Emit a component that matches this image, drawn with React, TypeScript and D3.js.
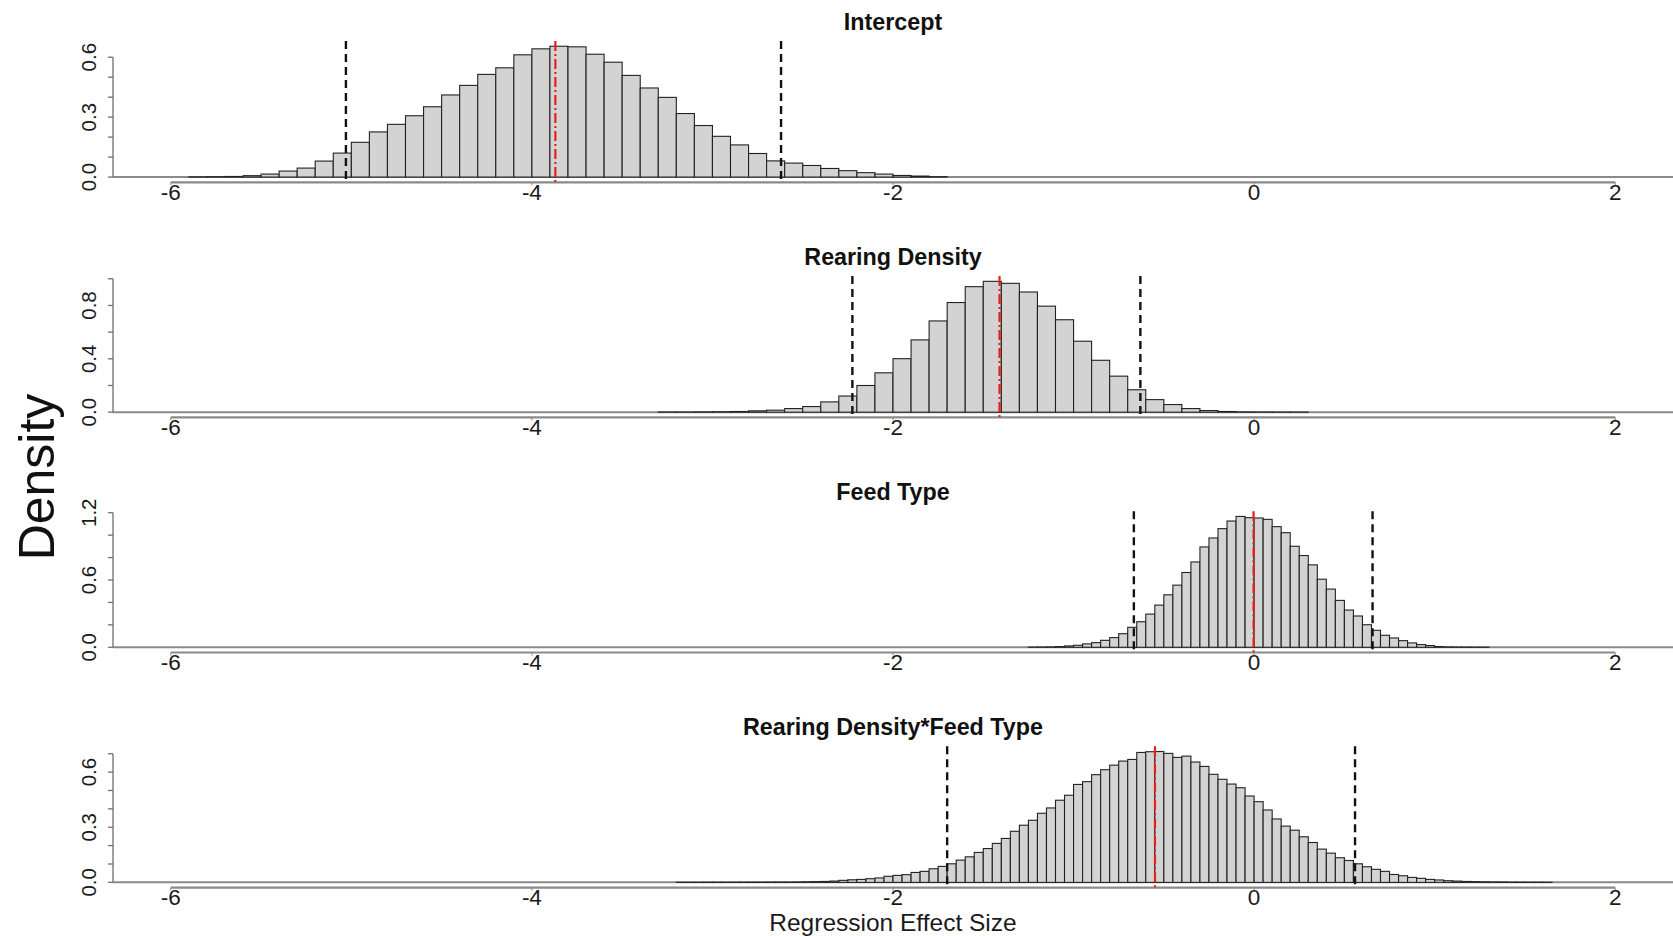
import React from "react";
import * as d3 from "d3";

// Posterior density histograms of the regression effects.
const panelTitles = ["Intercept", "Rearing Density", "Feed Type", "Rearing Density*Feed Type"];

// Left edge of the first bin and bin width for each panel.
const binStarts = [-5.9, -3.3, -1.25, -3.2];
const binWidths = [0.1, 0.1, 0.05, 0.05];

const interceptDensity = [
  0.001, 0.002, 0.003, 0.007, 0.015, 0.03, 0.045, 0.08, 0.12, 0.174, 0.226, 0.264, 0.307, 0.352,
  0.411, 0.459, 0.514, 0.547, 0.612, 0.642, 0.655, 0.652, 0.615, 0.575, 0.509, 0.446, 0.399, 0.318,
  0.258, 0.204, 0.161, 0.118, 0.081, 0.07, 0.058, 0.043, 0.032, 0.022, 0.015, 0.008, 0.005, 0.002,
];

const rearingDensity = [
  0.001, 0.001, 0.002, 0.003, 0.005, 0.01, 0.015, 0.027, 0.042, 0.077, 0.121, 0.2, 0.295, 0.401,
  0.542, 0.684, 0.822, 0.941, 0.981, 0.966, 0.901, 0.795, 0.693, 0.532, 0.389, 0.27, 0.168, 0.094,
  0.057, 0.027, 0.012, 0.005, 0.002, 0.001, 0.0005, 0.0003,
];

const feedTypeDensity = [
  0.001, 0.0015, 0.003, 0.006, 0.012, 0.018, 0.03, 0.041, 0.062, 0.086, 0.121, 0.178, 0.228, 0.296,
  0.376, 0.468, 0.554, 0.667, 0.761, 0.895, 0.975, 1.058, 1.126, 1.167, 1.156, 1.153, 1.141, 1.076,
  1.022, 0.901, 0.818, 0.735, 0.607, 0.519, 0.418, 0.332, 0.279, 0.201, 0.151, 0.107, 0.083, 0.059,
  0.039, 0.024, 0.015, 0.006, 0.003, 0.0015, 0.001, 0.0005, 0.0003,
];

const interactionDensity = [
  0.0003, 0.0003, 0.0003, 0.0005, 0.0005, 0.0005, 0.0007, 0.0008, 0.001, 0.001, 0.0012, 0.0013,
  0.0015, 0.002, 0.003, 0.004, 0.005, 0.007, 0.011, 0.014, 0.016, 0.02, 0.024, 0.033, 0.038, 0.042,
  0.054, 0.06, 0.074, 0.087, 0.101, 0.121, 0.139, 0.163, 0.184, 0.212, 0.239, 0.278, 0.311, 0.338,
  0.376, 0.405, 0.447, 0.474, 0.533, 0.548, 0.586, 0.613, 0.638, 0.66, 0.669, 0.707, 0.711, 0.712,
  0.702, 0.68, 0.687, 0.655, 0.631, 0.588, 0.561, 0.535, 0.515, 0.47, 0.439, 0.394, 0.345, 0.306,
  0.284, 0.248, 0.217, 0.181, 0.159, 0.134, 0.119, 0.101, 0.085, 0.071, 0.06, 0.043, 0.036, 0.027,
  0.022, 0.016, 0.013, 0.009, 0.007, 0.005, 0.004, 0.003, 0.002, 0.002, 0.001, 0.001, 0.0005,
  0.0005, 0.0003,
];

const densities = [interceptDensity, rearingDensity, feedTypeDensity, interactionDensity];

// 95% credible interval bounds and posterior means.
const lowerBounds = [-5.03, -2.225, -0.666, -1.7];
const upperBounds = [-2.62, -0.63, 0.656, 0.559];
const means = [-3.87, -1.41, -0.003, -0.549];

// Axis ticks.
const xTicks = [-6, -4, -2, 0, 2];
const yTickSteps = [0.1, 0.2, 0.2, 0.1];
const yTickMax = [0.6, 1.0, 1.2, 0.7];
const yLabelEvery = [3, 2, 3, 3];

const W = 1673;
const H = 936;
const plotLeft = 113;
const plotRight = 1673;
const panelStep = 235.1;
const firstTop = 41;
const plotHeight = 141.3;

const sans = "'Liberation Sans', Arial, Helvetica, sans-serif";

function Panel({ k }: { k: number }) {
  const top = firstTop + k * panelStep;
  const bottom = top + plotHeight;
  const values = densities[k];
  const ymax = d3.max(values) as number;

  // Plot region carries a 4% margin on both axes.
  const x = d3.scaleLinear().domain([-6 - 0.32, 2 + 0.32]).range([plotLeft, plotRight]);
  const y = d3.scaleLinear().domain([-0.04 * ymax, 1.04 * ymax]).range([bottom, top]);

  const bins = values.map((v, i) => {
    const x0 = binStarts[k] + i * binWidths[k];
    return { x0, x1: x0 + binWidths[k], v };
  });

  const nTicks = Math.round(yTickMax[k] / yTickSteps[k]);
  const yTicks = d3.range(nTicks + 1).map((i) => i * yTickSteps[k]);
  const axisGray = "#6e6e6e";

  return (
    <g>
      <text
        x={(plotLeft + plotRight) / 2}
        y={top - 19.5}
        textAnchor="middle"
        dominantBaseline="central"
        fontFamily={sans}
        fontWeight="bold"
        fontSize={23.3}
        fill="#111"
      >
        {panelTitles[k]}
      </text>

      {/* zero reference line */}
      <line x1={plotLeft} x2={plotRight} y1={y(0)} y2={y(0)} stroke="#8a8a8a" strokeWidth={2} />

      {bins.map((b, i) => (
        <rect
          key={i}
          x={x(b.x0)}
          y={y(b.v)}
          width={x(b.x1) - x(b.x0)}
          height={Math.max(y(0) - y(b.v), 0.05)}
          fill="#d3d3d3"
          stroke="#222"
          strokeWidth={1.1}
        />
      ))}

      {/* x axis */}
      <line x1={x(-6)} x2={x(2)} y1={bottom} y2={bottom} stroke="#8a8a8a" strokeWidth={2.2} />
      {xTicks.map((t) => (
        <g key={t}>
          <line x1={x(t)} x2={x(t)} y1={bottom} y2={bottom + 3} stroke="#8a8a8a" strokeWidth={1} />
          <text
            x={x(t)}
            y={bottom + 10}
            textAnchor="middle"
            dominantBaseline="central"
            fontFamily={sans}
            fontSize={22.5}
            fill="#1a1a1a"
          >
            {t}
          </text>
        </g>
      ))}

      {/* y axis */}
      <line x1={plotLeft} x2={plotLeft} y1={y(0)} y2={y(yTickMax[k])} stroke={axisGray} strokeWidth={1.3} />
      {yTicks.map((t, i) => (
        <g key={i}>
          <line x1={plotLeft - 5} x2={plotLeft} y1={y(t)} y2={y(t)} stroke={axisGray} strokeWidth={1.3} />
          {i % yLabelEvery[k] === 0 && (
            <text
              transform={`translate(${plotLeft - 25},${y(t)}) rotate(-90)`}
              textAnchor="middle"
              dominantBaseline="central"
              fontFamily={sans}
              fontSize={20.5}
              fill="#1a1a1a"
            >
              {t.toFixed(1)}
            </text>
          )}
        </g>
      ))}

      {/* credible interval bounds */}
      {[lowerBounds[k], upperBounds[k]].map((v, i) => (
        <line
          key={i}
          x1={x(v)}
          x2={x(v)}
          y1={top}
          y2={bottom}
          stroke="#111"
          strokeWidth={2.4}
          strokeDasharray="8,5"
        />
      ))}

      {/* posterior mean */}
      <line
        x1={x(means[k])}
        x2={x(means[k])}
        y1={top}
        y2={bottom}
        stroke="#e8201c"
        strokeWidth={2.2}
        strokeDasharray="10,3,2,3"
      />
    </g>
  );
}

export default function App() {
  return (
    <svg
      width={W}
      height={H}
      viewBox={`0 0 ${W} ${H}`}
      style={{ position: "absolute", left: 0, top: 0, background: "#fff" }}
    >
      <rect x={0} y={0} width={W} height={H} fill="#fff" />
      {panelTitles.map((_, k) => (
        <Panel key={k} k={k} />
      ))}
      <text
        transform="translate(37,477) rotate(-90)"
        textAnchor="middle"
        dominantBaseline="central"
        fontFamily={sans}
        fontSize={50}
        fill="#111"
      >
        Density
      </text>
      <text
        x={(plotLeft + plotRight) / 2}
        y={922.5}
        textAnchor="middle"
        dominantBaseline="central"
        fontFamily={sans}
        fontSize={24.5}
        fill="#1a1a1a"
      >
        Regression Effect Size
      </text>
    </svg>
  );
}
